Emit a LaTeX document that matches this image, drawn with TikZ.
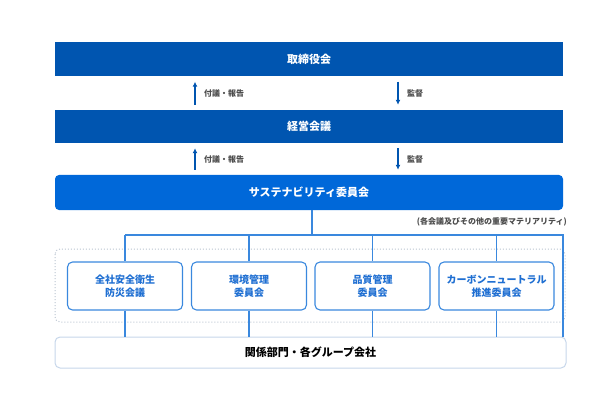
\documentclass[tikz,border=0pt]{standalone}
\usepackage{fontspec}
\setmainfont{Noto Sans CJK JP}
\usetikzlibrary{arrows.meta}
\definecolor{boardblue}{HTML}{0055B0}
\definecolor{sustblue}{HTML}{0068D9}
\definecolor{lineblue}{HTML}{3A88DE}
\definecolor{textblue}{HTML}{1F6FD2}
\definecolor{paleline}{HTML}{C6D6EA}
\definecolor{dotgray}{HTML}{B9C3CF}
\begin{document}
\begin{tikzpicture}[x=1pt, y=-1pt,
  bar/.style={fill=boardblue, text=white, font=\bfseries\fontsize{11}{13}\selectfont,
    minimum width=508pt, minimum height=34pt, inner sep=0pt},
  flow/.style={boardblue, line width=1.2pt, -{Latex[length=5pt,width=5pt]},
    shorten <=5pt, shorten >=5pt},
  note/.style={font=\bfseries\fontsize{8}{9}\selectfont, text=black!70, inner sep=0pt},
  cttee/.style={draw=lineblue, line width=1.1pt, rounded corners=5pt, fill=white,
    text=textblue, font=\bfseries\fontsize{10}{12.5}\selectfont, align=center,
    minimum width=115pt, minimum height=48pt, inner sep=0pt},
  link/.style={lineblue, line width=1.1pt}]
  \useasboundingbox (0,0) rectangle (607,414);

  % top bars
  \node[bar] (board) at (309,59.5) {取締役会};
  \node[bar, minimum height=33pt] (keiei) at (309,126.5) {経営会議};
  \node[bar, fill=sustblue, rounded corners=4pt, minimum height=35pt] (sust) at (309,192.5)
    {サステナビリティ委員会};

  \coordinate (upx) at (195,0);
  \coordinate (dnx) at (398,0);
  \draw[flow] (keiei.north -| upx) -- (board.south -| upx);
  \draw[flow] (board.south -| dnx) -- (keiei.north -| dnx);
  \draw[flow] (sust.north -| upx) -- (keiei.south -| upx);
  \draw[flow] (keiei.south -| dnx) -- (sust.north -| dnx);
  \node[note, anchor=west] (rep1) at (204,93) {付議・報告};
  \node[note, anchor=west] (sup1) at (407,93) {監督};
  \node[note, anchor=west] (rep2) at (204,159) {付議・報告};
  \node[note, anchor=west] (sup2) at (407,159) {監督};

  \node[note, anchor=east] (mat) at (567,222) {(各会議及びその他の重要マテリアリティ)};

  % committees
  \draw[dotgray, line width=1pt, dotted, rounded corners=5pt] (55,249) rectangle (565,322);
  \node[cttee] (safety) at (125,286) {全社安全衛生\\防災会議};
  \node[cttee] (env) at (249,286) {環境管理\\委員会};
  \node[cttee] (qual) at (372.5,286) {品質管理\\委員会};
  \node[cttee] (carbon) at (496.5,286) {カーボンニュートラル\\推進委員会};

  \node[draw=paleline, line width=1pt, rounded corners=5pt, minimum width=511pt,
    minimum height=31pt, inner sep=0pt, font=\bfseries\fontsize{11}{13}\selectfont]
    (group) at (310.5,352.5) {関係部門・各グループ会社};

  \coordinate (hub) at (312,235);
  \coordinate (edge) at (563,235);
  \draw[link] (sust.south -| hub) -- (hub);
  \draw[link] (hub -| safety) -- (edge) -- (group.north -| edge);
  \foreach \c in {safety, env, qual, carbon} {
    \draw[link] (hub -| \c) -- (\c.north);
    \draw[link] (\c.south) -- (group.north -| \c);
  }
\end{tikzpicture}
\end{document}
